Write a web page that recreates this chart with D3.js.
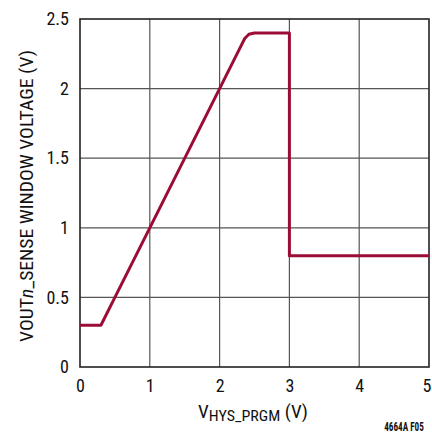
<!DOCTYPE html>
<html><head><meta charset="utf-8">
<script src="https://cdn.jsdelivr.net/npm/d3@7"></script>
<style>
html,body{margin:0;padding:0;background:#fff;}
text{font-family:"Liberation Sans Narrow","Roboto Condensed","DejaVu Sans Condensed",sans-serif;fill:#111;}
</style></head>
<body>
<svg id="chart" width="432" height="433"></svg>
<script>
const xTicks = [0,1,2,3,4,5];
const yTicks = [0,0.5,1,1.5,2,2.5];
const xTickLabels = ["0","1","2","3","4","5"];
const yTickLabels = ["0","0.5","1","1.5","2","2.5"];
const vhys = [0, 0.3, 0.5, 1, 2, 2.28, 2.36, 2.42, 2.5, 2.6, 3.0, 3.0, 5];
const vout = [0.3, 0.3, 0.5, 1, 2, 2.28, 2.36, 2.39, 2.4, 2.4, 2.4, 0.8, 0.8];

const svg = d3.select("#chart");
const x = d3.scaleLinear().domain([0,5]).range([80,429]);
const y = d3.scaleLinear().domain([0,2.5]).range([367,19]);

const g = svg.append("g");
g.selectAll("line.vx").data(xTicks.slice(1,-1)).enter().append("line")
  .attr("x1",d=>x(d)).attr("x2",d=>x(d)).attr("y1",y(0)).attr("y2",y(2.5))
  .attr("stroke","#555").attr("stroke-width",1.2);
g.selectAll("line.hy").data(yTicks.slice(1,-1)).enter().append("line")
  .attr("y1",d=>y(d)).attr("y2",d=>y(d)).attr("x1",x(0)).attr("x2",x(5))
  .attr("stroke","#555").attr("stroke-width",1.2);
g.append("rect").attr("x",x(0)).attr("y",y(2.5)).attr("width",x(5)-x(0)).attr("height",y(0)-y(2.5))
  .attr("fill","none").attr("stroke","#222").attr("stroke-width",1.6);

const pts = vhys.map((v,i)=>[v,vout[i]]);
g.append("path").datum(pts)
  .attr("d", d3.line().x(d=>x(d[0])).y(d=>y(d[1])))
  .attr("fill","none").attr("stroke","#9b0d37").attr("stroke-width",3).attr("stroke-linejoin","round");

const xAxis = d3.axisBottom(x).tickValues(xTicks).tickFormat((d,i)=>xTickLabels[i]).tickSize(0).tickPadding(12);
const xa = svg.append("g").attr("transform",`translate(0,${y(0)})`).call(xAxis);
xa.select(".domain").remove();
xa.selectAll("text").attr("font-size",18).attr("font-family",null).attr("fill","#111");
xa.selectAll("text").filter(d=>d===5).attr("text-anchor","end").attr("dx",2);

const yAxis = d3.axisLeft(y).tickValues(yTicks).tickFormat((d,i)=>yTickLabels[i]).tickSize(0).tickPadding(11);
const ya = svg.append("g").attr("transform",`translate(${x(0)},0)`).call(yAxis);
ya.select(".domain").remove();
ya.selectAll("text").attr("font-size",18).attr("font-family",null).attr("fill","#111");

function fitWidth(sel, cx, cy, w, rot){
  const bb = sel.node().getBBox();
  const s = w / bb.width;
  sel.attr("transform", `translate(${cx},${cy}) rotate(${rot}) scale(${s},1)`);
}

const xl = svg.append("text").attr("x",0).attr("y",0).attr("text-anchor","middle").attr("font-size",18);
xl.append("tspan").text("V");
xl.append("tspan").attr("font-size",15).attr("dy",3).text("HYS_PRGM");
xl.append("tspan").attr("dy",-3).text(" (V)");
fitWidth(xl, 253, 418, 110, 0);

const yl = svg.append("text").attr("x",0).attr("y",0).attr("text-anchor","middle").attr("font-size",19);
yl.append("tspan").text("VOUT");
yl.append("tspan").attr("font-style","italic").text("n");
yl.append("tspan").text("_SENSE WINDOW VOLTAGE (V)");
fitWidth(yl, 33, 196, 292, -90);

const fn = svg.append("text").attr("x",0).attr("y",0).attr("text-anchor","middle").attr("font-size",13).attr("font-weight","bold").attr("fill","#333").text("4664A F05");
fitWidth(fn, 404, 431, 40, 0);
</script>
</body></html>
